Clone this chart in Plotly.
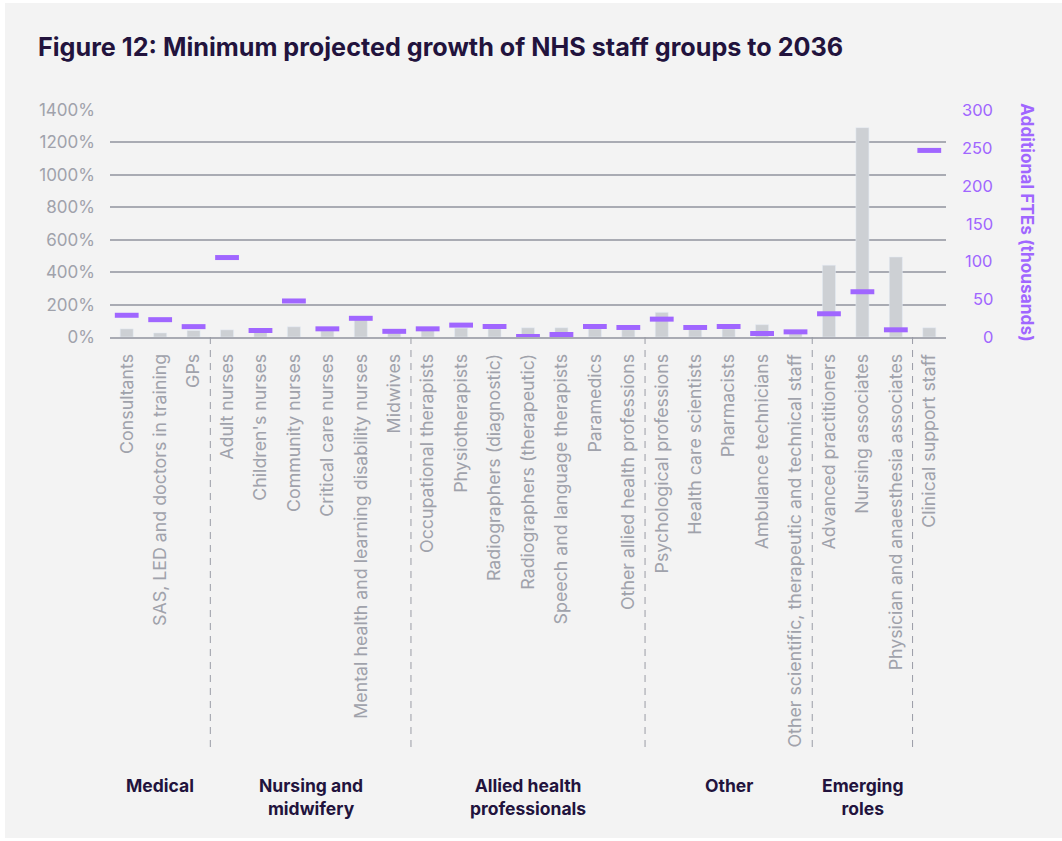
import plotly.graph_objects as go

categories = [
    "Consultants", "SAS, LED and doctors in training", "GPs",
    "Adult nurses", "Children's nurses", "Community nurses", "Critical care nurses",
    "Mental health and learning disability nurses", "Midwives",
    "Occupational therapists", "Physiotherapists", "Radiographers (diagnostic)",
    "Radiographers (therapeutic)", "Speech and language therapists", "Paramedics",
    "Other allied health professions",
    "Psychological professions", "Health care scientists", "Pharmacists",
    "Ambulance technicians", "Other scientific, therapeutic and technical staff",
    "Advanced practitioners", "Nursing associates", "Physician and anaesthesia associates",
    "Clinical support staff",
]
growth_pct = [50, 25, 40, 44, 32, 63, 38, 118, 26,
              42, 55, 50, 57, 57, 50, 45,
              152, 45, 50, 76, 28,
              443, 1291, 493, 57]
additional_ftes_k = [28.7, 22.9, 13.7, 105, 8.6, 47.6, 10.8, 24.7, 7.5,
                     10.8, 15.7, 13.9, 0.7, 3.3, 13.9, 12.6,
                     23.6, 12.6, 13.9, 4.6, 6.8,
                     30.7, 59.8, 9.5, 246.6]
group_names = ["Medical", "Nursing and<br>midwifery", "Allied health<br>professionals",
               "Other", "Emerging<br>roles"]
group_sizes = [3, 6, 7, 5, 3]
left_ticks = [0, 200, 400, 600, 800, 1000, 1200, 1400]
right_ticks = [0, 50, 100, 150, 200, 250, 300]

PURPLE = "#a066ff"
DARK = "#22133d"
GREY_TXT = "#a0a2ab"
FONT = "Inter"

W, H = 1062, 841
L, R, T, B = 110, 116, 110, 504
pw, ph = W - L - R, H - T - B
n = len(categories)


def px_x(px):
    return (px - L) / pw


def px_y(py):
    return (H - B - py) / ph


fig = go.Figure()
fig.add_trace(go.Bar(x=categories, y=growth_pct, marker_color="#cdd0d4",
                     width=0.39, yaxis="y", showlegend=False, hoverinfo="skip"))
fig.add_trace(go.Scatter(x=categories, y=additional_ftes_k, mode="markers", yaxis="y2",
                         marker=dict(symbol="line-ew", size=17,
                                     line=dict(width=5, color=PURPLE), color=PURPLE),
                         showlegend=False))

shapes = []
# white frame around the card
shapes.append(dict(type="rect", xref="paper", yref="paper", x0=px_x(0), x1=px_x(5),
                   y0=px_y(H), y1=px_y(0), fillcolor="white", line_width=0, layer="below"))
shapes.append(dict(type="rect", xref="paper", yref="paper", x0=px_x(0), x1=px_x(W),
                   y0=px_y(H), y1=px_y(838), fillcolor="white", line_width=0, layer="below"))
shapes.append(dict(type="rect", xref="paper", yref="paper", x0=px_x(0), x1=px_x(W),
                   y0=px_y(3), y1=px_y(0), fillcolor="white", line_width=0, layer="below"))

# dashed group separators
pos = 0
for s in group_sizes:
    pos += s
    xp = pos / n
    shapes.append(dict(type="line", xref="paper", yref="paper", x0=xp, x1=xp,
                       y0=0, y1=px_y(750), line=dict(color="#9a9ca6", width=1, dash="7px,6px")))

annotations = []
start = 0
for name, s in zip(group_names, group_sizes):
    c = (start + s / 2) / n
    start += s
    annotations.append(dict(text=f"<b>{name}</b>", xref="paper", yref="paper", x=c,
                            y=px_y(773), xanchor="center", yanchor="top", showarrow=False,
                            font=dict(family=FONT, size=17.5, color=DARK), align="center"))

for v in right_ticks:
    annotations.append(dict(text=str(v), xref="paper", yref="y2", x=px_x(995), y=v,
                            xanchor="right", yanchor="middle", showarrow=False,
                            font=dict(family=FONT, size=16.5, color=PURPLE)))
annotations.append(dict(text="<b>Additional FTEs (thousands)</b>", xref="paper", yref="paper",
                        x=px_x(1028), y=px_y(222), textangle=90, xanchor="center",
                        yanchor="middle", showarrow=False,
                        font=dict(family=FONT, size=17.3, color=PURPLE)))

fig.update_layout(
    width=W, height=H,
    margin=dict(l=L, r=R, t=T, b=B, autoexpand=False),
    paper_bgcolor="#f3f3f3", plot_bgcolor="#f3f3f3",
    title=dict(text="<b>Figure 12: Minimum projected growth of NHS staff groups to 2036</b>",
               x=38 / W, xanchor="left", xref="container", y=1 - 47 / H, yanchor="middle",
               font=dict(family=FONT, size=25.2, color=DARK)),
    xaxis=dict(type="category", range=[-0.5, n - 0.5], tickangle=-90, showgrid=False,
               tickfont=dict(family=FONT, size=17.8, color=GREY_TXT), ticks="",
               ticklabelstandoff=8,
               showline=True, linecolor="#a9abb3", linewidth=1.5, zeroline=False),
    yaxis=dict(range=[0, 1400], tickvals=left_ticks,
               ticktext=[f"{v}%" for v in left_ticks],
               tickfont=dict(family=FONT, size=17, color=GREY_TXT),
               showgrid=True, gridcolor="#a9abb3", gridwidth=1.5, zeroline=False,
               ticks="", ticklabelstandoff=14),
    yaxis2=dict(range=[0, 300], overlaying="y", side="right", showgrid=False,
                showticklabels=False, zeroline=False, ticks=""),
    shapes=shapes, annotations=annotations,
    bargap=0.6,
)

fig.write_html("out.html")
